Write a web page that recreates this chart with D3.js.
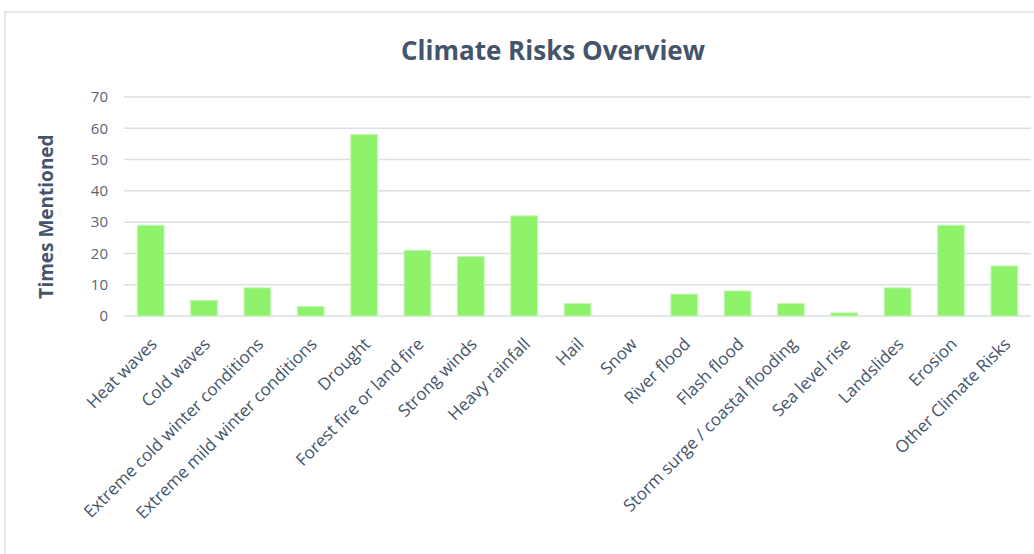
<!DOCTYPE html>
<html>
<head>
<meta charset="utf-8">
<script src="https://cdn.jsdelivr.net/npm/d3@7"></script>
<style>
  body { margin: 0; background: #fff; }
  text { font-family: "Open Sans", sans-serif; }
</style>
</head>
<body>
<div id="chart"></div>
<script>
// data
var categories = ["Heat waves", "Cold waves", "Extreme cold winter conditions", "Extreme mild winter conditions",
  "Drought", "Forest fire or land fire", "Strong winds", "Heavy rainfall", "Hail", "Snow", "River flood",
  "Flash flood", "Storm surge / coastal flooding", "Sea level rise", "Landslides", "Erosion", "Other Climate Risks"];
var timesMentioned = [29, 5, 9, 3, 58, 21, 19, 32, 4, 0, 7, 8, 4, 1, 9, 29, 16];
var yTicks = [0, 10, 20, 30, 40, 50, 60, 70];

var width = 1034, height = 554;
var margin = { top: 97, right: 3, bottom: 238, left: 124 };

var svg = d3.select("#chart").append("svg")
  .attr("width", width)
  .attr("height", height);

// outer frame
svg.append("rect")
  .attr("x", 5).attr("y", 12)
  .attr("width", width + 10).attr("height", height + 10)
  .attr("fill", "none")
  .attr("stroke", "#dde2e8")
  .attr("stroke-width", 1.5);

var x = d3.scaleBand()
  .domain(categories)
  .range([margin.left, width - margin.right])
  .paddingInner(0.5)
  .paddingOuter(0.25);

var y = d3.scaleLinear()
  .domain([0, 70])
  .range([height - margin.bottom, margin.top]);

// gridlines
svg.append("g")
  .selectAll("line")
  .data(yTicks)
  .enter()
  .append("line")
  .attr("x1", margin.left)
  .attr("x2", width - margin.right)
  .attr("y1", function(d) { return y(d); })
  .attr("y2", function(d) { return y(d); })
  .attr("stroke", "#dadee5")
  .attr("stroke-width", 1.5);

// y tick labels
var yAxis = svg.append("g")
  .attr("transform", "translate(" + (margin.left - 16) + ",0)")
  .call(d3.axisLeft(y).tickValues(yTicks).tickSize(0).tickPadding(0));
yAxis.select(".domain").remove();
yAxis.selectAll("text")
  .attr("fill", "#5b6473")
  .style("font-size", "15px");

// bars
svg.append("g")
  .selectAll("rect")
  .data(timesMentioned)
  .enter()
  .append("rect")
  .attr("x", function(d, i) { return x(categories[i]); })
  .attr("y", function(d) { return y(d); })
  .attr("width", x.bandwidth())
  .attr("height", function(d) { return y(0) - y(d); })
  .attr("fill", "#8ef26b")
  .attr("stroke", "#c4f7b0")
  .attr("stroke-width", 1);

// x labels, rotated
svg.append("g")
  .selectAll("text")
  .data(categories)
  .enter()
  .append("text")
  .attr("transform", function(d) {
    return "translate(" + (x(d) + x.bandwidth() / 2 + 3) + "," + (y(0) + 25) + ") rotate(-45)";
  })
  .attr("text-anchor", "end")
  .attr("dy", "0.35em")
  .attr("fill", "#44546a")
  .style("font-size", "17px")
  .text(function(d) { return d; });

// title
svg.append("text")
  .attr("x", 553)
  .attr("y", 60)
  .attr("text-anchor", "middle")
  .attr("fill", "#44546a")
  .style("font-size", "26px")
  .style("font-weight", "bold")
  .text("Climate Risks Overview");

// y axis title
svg.append("text")
  .attr("transform", "translate(53," + (y(35) + 10) + ") rotate(-90)")
  .attr("text-anchor", "middle")
  .attr("fill", "#44546a")
  .style("font-size", "19px")
  .style("font-weight", "bold")
  .text("Times Mentioned");
</script>
</body>
</html>
